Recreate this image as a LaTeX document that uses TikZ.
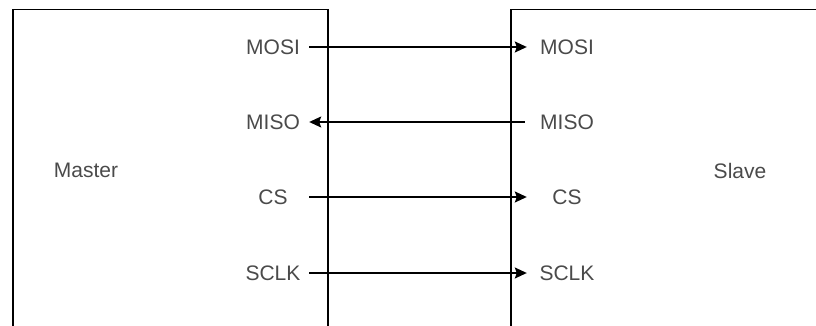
\documentclass[tikz,border=0pt]{standalone}
\usepackage{fontspec}
\setmainfont{Liberation Sans}
\usepackage{tikz}
\usetikzlibrary{arrows.meta,positioning}
\definecolor{labelgray}{HTML}{4A4A4A}
\tikzset{unit/.style={rectangle,draw,line width=1.5pt,inner sep=0pt,anchor=north west},mport/.style={inner sep=0pt,minimum width=72pt,text height=15pt,text depth=0pt,align=center,text=labelgray},sport/.style={mport,minimum width=80pt},signal/.style={-{Stealth[length=12pt,width=11pt,inset=2pt]},line width=1.5pt},every node/.style={font=\fontsize{21}{25}\selectfont}}

\begin{document}
\begin{tikzpicture}[x=1pt,y=-1pt]
\useasboundingbox (0,0) rectangle (816,326);
\node[unit,minimum width=315pt,minimum height=360pt] (master) at (12,9) {};
\node[unit,minimum width=340pt,minimum height=360pt] (slave) at (510,9) {};
\node[text=labelgray] (mastername) at (86,170) {Master};
\node[text=labelgray] (slavename) at (740,171) {Slave};
\foreach \s/\y in {MOSI/47,MISO/122,CS/197,SCLK/273}{
\node[mport] (m\s) at (273,\y) {\s};
\node[sport] (s\s) at (567,\y) {\s};
}
\foreach \s in {MOSI,CS,SCLK}{\draw[signal] (m\s.east)--(s\s.west);}
\draw[signal,shorten <=2pt] (sMISO.west)--(mMISO.east);
\end{tikzpicture}
\end{document}
